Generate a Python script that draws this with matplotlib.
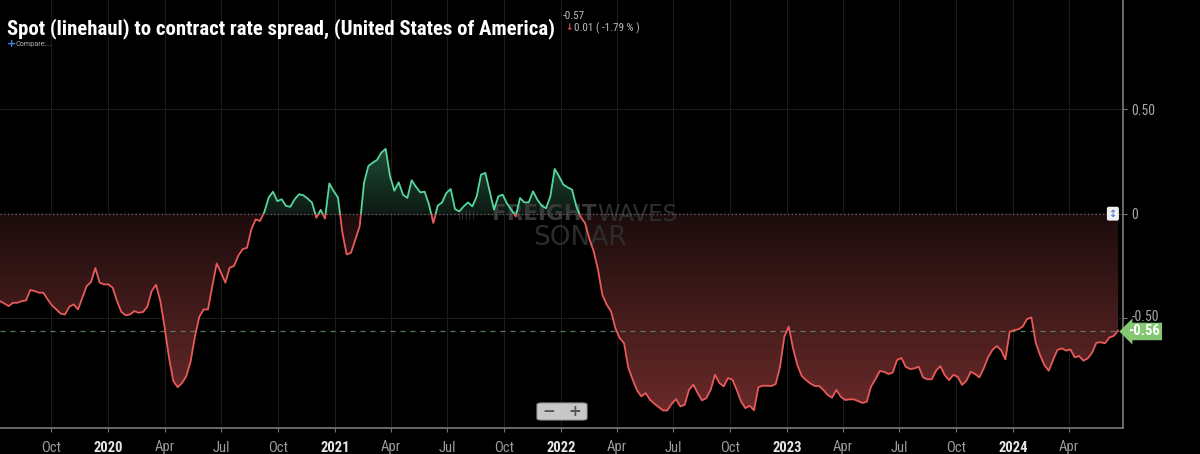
import numpy as np
import pandas as pd
import matplotlib
matplotlib.use("Agg")
import matplotlib.pyplot as plt
import matplotlib.dates as mdates
import matplotlib.font_manager as fm
import matplotlib.transforms as mtransforms
from matplotlib.colors import LinearSegmentedColormap
from matplotlib.patches import Rectangle, FancyBboxPatch

# ---------------- data ----------------
start_date = "2019-07-10"
spread = [
    -0.418, -0.429, -0.442, -0.426, -0.426, -0.418, -0.415, -0.365, -0.370, -0.378,
    -0.378, -0.410, -0.439, -0.458, -0.478, -0.482, -0.445, -0.434, -0.458, -0.402,
    -0.346, -0.327, -0.260, -0.330, -0.338, -0.338, -0.354, -0.418, -0.470, -0.486,
    -0.482, -0.466, -0.474, -0.470, -0.445, -0.370, -0.340, -0.418, -0.545, -0.689,
    -0.800, -0.830, -0.810, -0.777, -0.705, -0.585, -0.493, -0.458, -0.458, -0.346,
    -0.238, -0.282, -0.330, -0.258, -0.250, -0.200, -0.170, -0.163, -0.075, -0.027,
    -0.035, 0.008, 0.077, 0.105, 0.060, 0.069, 0.037, 0.033, 0.069, 0.093,
    0.088, 0.072, 0.053, -0.020, 0.018, -0.024, 0.145, 0.108, 0.077, -0.090,
    -0.195, -0.187, -0.123, -0.060, 0.148, 0.228, 0.244, 0.257, 0.292, 0.310,
    0.180, 0.110, 0.150, 0.091, 0.075, 0.160, 0.128, 0.102, 0.105, 0.043,
    -0.045, 0.038, 0.054, 0.099, 0.118, 0.022, 0.011, 0.035, 0.054, 0.035,
    0.083, 0.187, 0.195, 0.107, 0.019, 0.083, 0.091, 0.048, 0.019, -0.013,
    0.075, 0.054, 0.054, 0.107, 0.067, 0.038, 0.026, 0.083, 0.214, 0.179,
    0.139, 0.126, 0.115, 0.035, -0.016, -0.045, -0.120, -0.180, -0.268, -0.388,
    -0.435, -0.467, -0.547, -0.595, -0.619, -0.738, -0.794, -0.845, -0.874, -0.858,
    -0.890, -0.909, -0.925, -0.941, -0.941, -0.909, -0.887, -0.922, -0.914, -0.842,
    -0.818, -0.858, -0.893, -0.882, -0.842, -0.770, -0.810, -0.826, -0.786, -0.794,
    -0.842, -0.898, -0.930, -0.919, -0.940, -0.830, -0.823, -0.823, -0.824, -0.815,
    -0.732, -0.588, -0.540, -0.644, -0.724, -0.776, -0.796, -0.812, -0.824, -0.824,
    -0.843, -0.867, -0.880, -0.843, -0.875, -0.891, -0.888, -0.888, -0.896, -0.905,
    -0.900, -0.827, -0.792, -0.753, -0.756, -0.767, -0.760, -0.700, -0.690, -0.732,
    -0.743, -0.740, -0.732, -0.783, -0.792, -0.792, -0.751, -0.729, -0.772, -0.796,
    -0.771, -0.780, -0.819, -0.799, -0.756, -0.767, -0.783, -0.740, -0.687, -0.652,
    -0.633, -0.652, -0.697, -0.565, -0.557, -0.553, -0.540, -0.504, -0.496, -0.617,
    -0.676, -0.724, -0.751, -0.700, -0.652, -0.644, -0.655, -0.649, -0.687, -0.681,
    -0.703, -0.692, -0.665, -0.617, -0.615, -0.620, -0.592, -0.585, -0.560,
]
dates = pd.date_range(start_date, periods=len(spread), freq="7D")
ytick_vals = [0.5, 0.0, -0.5]
ytick_labels = ["0.50", "0", "-0.50"]
last_label = "-0.56"
last_value = -0.56
title = "Spot (linehaul) to contract rate spread, (United States of America)"
header_value = "-0.57"
header_change = "0.01 ( -1.79 % )"


# ---------------- fonts ----------------
def pick_font(bold):
    cands = []
    for f in fm.fontManager.ttflist:
        nm = f.name
        cond = (f.stretch in ("condensed", "semi-condensed", "extra-condensed")
                or "Condensed" in nm or "Narrow" in nm)
        if not cond or f.style != "normal":
            continue
        w = f.weight if isinstance(f.weight, int) else (700 if "bold" in str(f.weight) else 400)
        if "Roboto" in nm:
            pref = 0
        elif "Liberation" in nm:
            pref = 1
        elif "Noto" in nm or "Open" in nm:
            pref = 2
        elif "DejaVu" in nm:
            pref = 3
        else:
            pref = 4
        target = 600 if bold else 400
        cands.append((pref, abs(w - target), f.fname))
    if cands:
        cands.sort()
        return fm.FontProperties(fname=cands[0][2])
    return fm.FontProperties(family="DejaVu Sans", weight="bold" if bold else "normal")


FP_BOLD = pick_font(True)
FP_REG = pick_font(False)

# ---------------- figure ----------------
BG = "#000000"
GREEN = "#55d69c"
RED = "#e85a5a"
fig = plt.figure(figsize=(12, 4.54), dpi=100, facecolor=BG)
ax = fig.add_axes([0, 26 / 454, 1123 / 1200, 428 / 454], facecolor=BG)

x = mdates.date2num(dates)
y = np.array(spread)
xmin = mdates.date2num(pd.Timestamp("2019-07-10"))
xmax = mdates.date2num(pd.Timestamp("2024-06-27"))
ymin, ymax = -1.025, 1.022
ax.set_xlim(xmin, xmax)
ax.set_ylim(ymin, ymax)

# gradient fills clipped to area between line and zero
poly = ax.fill_between(x, y, 0, color="none", lw=0)
clip = poly.get_paths()[0]
red_cmap = LinearSegmentedColormap.from_list("r", ["#1c0c0c", "#6a2a2a"])
green_cmap = LinearSegmentedColormap.from_list("g", ["#0c1a13", "#214c38"])
grad = np.linspace(0, 1, 256).reshape(-1, 1)
im_r = ax.imshow(grad, cmap=red_cmap, aspect="auto", origin="upper",
                 extent=[x[0], x[-1], -0.95, 0], zorder=1)
im_g = ax.imshow(grad, cmap=green_cmap, aspect="auto", origin="lower",
                 extent=[x[0], x[-1], 0, 0.32], zorder=1)
for im in (im_r, im_g):
    im.set_clip_path(clip, transform=ax.transData)


# watermark (behind line)
def fx(px):
    return px / 1123


def fy(py):
    return (428 - py) / 428


ax.text(fx(597), fy(214.5), "FREIGHT", transform=ax.transAxes, fontsize=15.5,
        fontweight="bold", color="#383838", ha="right", va="center", zorder=2)
ax.text(fx(597), fy(214.5), "WAVES", transform=ax.transAxes, fontsize=16.5,
        color="#2f2f2f", ha="left", va="center", zorder=2)
ax.text(fx(580), fy(238), "SONAR", transform=ax.transAxes, fontsize=19,
        color="#2c2c2c", ha="center", va="center", zorder=2)
ax.text(fx(476), fy(215), "|||||", transform=ax.transAxes, fontsize=8,
        color="#2e2e2e", ha="right", va="center", zorder=2)

# line coloured by sign
ln_g, = ax.plot(x, y, color=GREEN, lw=1.3, zorder=3)
ln_r, = ax.plot(x, y, color=RED, lw=1.3, zorder=3)
ln_g.set_clip_path(Rectangle((xmin, 0), xmax - xmin, ymax, transform=ax.transData))
ln_r.set_clip_path(Rectangle((xmin, ymin), xmax - xmin, -ymin, transform=ax.transData))

# reference lines
ax.axhline(0, color="#6a6a6a", lw=0.9, ls=(0, (1, 2)), zorder=2)
ax.axhline(last_value, color="#5d7a5a", lw=0.9, ls=(0, (4, 4)), zorder=2)

# grid
ax.grid(True, color="#1b1b1b", lw=0.8, zorder=0)
ax.set_axisbelow(True)

# ticks
quarters = pd.date_range("2019-10-01", "2024-04-01", freq="QS-JAN")
ax.set_xticks(mdates.date2num(quarters))
ax.set_xticklabels([str(d.year) if d.month == 1 else d.strftime("%b") for d in quarters])
ax.tick_params(axis="x", colors="#777777", length=3, pad=6)
for d, lab in zip(quarters, ax.get_xticklabels()):
    lab.set_fontproperties(FP_BOLD if d.month == 1 else FP_REG)
    lab.set_fontsize(10.5)
    lab.set_color("#e6e6e6" if d.month == 1 else "#9a9a9a")

ax.yaxis.tick_right()
ax.set_yticks(ytick_vals)
ax.set_yticklabels(ytick_labels)
ax.tick_params(axis="y", colors="#777777", labelcolor="#a8a8a8", length=3, pad=3)
for val, lab in zip(ytick_vals, ax.get_yticklabels()):
    lab.set_fontproperties(FP_REG)
    lab.set_fontsize(10)
    lab.set_color("#a8a8a8")
    if val == -0.5:
        lab.set_transform(lab.get_transform() +
                          mtransforms.ScaledTranslation(0, 3 / 100, fig.dpi_scale_trans))

for s in ("left", "top"):
    ax.spines[s].set_visible(False)
for s in ("right", "bottom"):
    ax.spines[s].set_color("#7a7a7a")
    ax.spines[s].set_linewidth(1.2)

# last value tag
ax.annotate(last_label, xy=(1.0, last_value), xycoords=("axes fraction", "data"),
            xytext=(4, -0.5), textcoords="offset points", ha="left", va="center",
            fontproperties=FP_BOLD, fontsize=10.5, color="white", zorder=6,
            bbox=dict(boxstyle="larrow,pad=0.12", fc="#84c872", ec="none"),
            annotation_clip=False)

# small scale toggle box at zero
ax.text(0.991, 0.0, "\u2195", transform=ax.get_yaxis_transform(), ha="center",
        va="center", fontsize=7, color="#3b6fd6", zorder=6,
        bbox=dict(boxstyle="round,pad=0.2", fc="#f0f0f0", ec="none"))

# header texts
t = fig.text(7 / 1200, 1 - 29 / 454, title, fontproperties=FP_BOLD, fontsize=15,
             color="white", va="center", ha="left")
fig.canvas.draw()
w = t.get_window_extent().width
t.set_fontsize(15 * 548 / w)

fig.text(563 / 1200, 1 - 16 / 454, header_value, fontproperties=FP_REG, fontsize=8,
         color="#bbbbbb", va="center")
fig.text(565 / 1200, 1 - 28 / 454, "\u2193", fontsize=6.5, color="#e34a4a",
         fontweight="bold", va="center")
fig.text(574 / 1200, 1 - 28 / 454, header_change, fontproperties=FP_REG, fontsize=8,
         color="#bbbbbb", va="center")
fig.text(7 / 1200, 1 - 44 / 454, "+", fontsize=8, color="#3d8be0",
         fontweight="bold", va="center")
fig.text(16 / 1200, 1 - 44 / 454, "Compare...", fontproperties=FP_REG, fontsize=6,
         color="#aaaaaa", va="center")

# zoom buttons
btn = FancyBboxPatch((537 / 1200, 1 - 420 / 454), 50 / 1200, 17 / 454,
                     boxstyle="round,pad=0,rounding_size=0.004",
                     transform=fig.transFigure, fc="#c8c8c8", ec="#9a9a9a",
                     lw=0.8, zorder=10)
fig.patches.append(btn)
fig.text(549 / 1200, 1 - 411 / 454, "\u2212", fontsize=11, color="#555555",
         ha="center", va="center", fontweight="bold", zorder=11)
fig.text(575 / 1200, 1 - 411 / 454, "+", fontsize=11, color="#555555",
         ha="center", va="center", fontweight="bold", zorder=11)
fig.lines.append(plt.Line2D([562 / 1200, 562 / 1200], [1 - 418 / 454, 1 - 404 / 454],
                            transform=fig.transFigure, color="#a0a0a0", lw=0.8))

fig.savefig("out.png", dpi=100, facecolor=BG)
